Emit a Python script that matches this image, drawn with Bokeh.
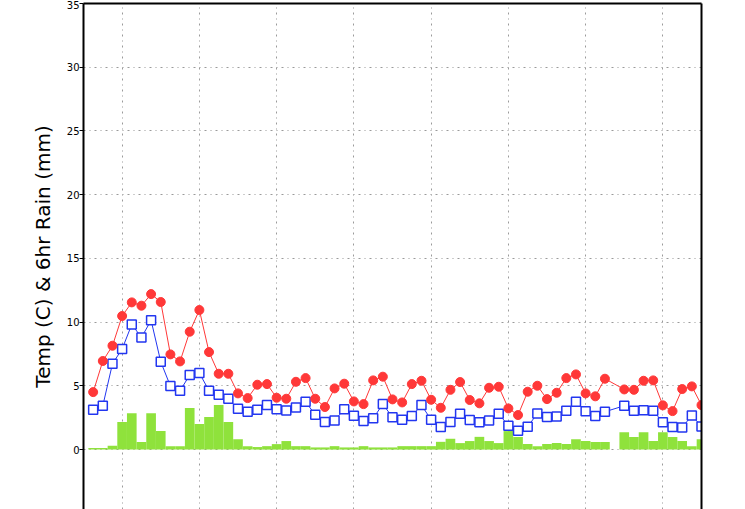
import math
from bokeh.plotting import figure
from bokeh.models import LinearAxis, FixedTicker, Range1d
from bokeh.embed import file_html
from bokeh.resources import INLINE

# ---- data (6-hourly steps) ----
step = list(range(64))
temp_max = [4.51, 6.95, 8.15, 10.48, 11.55, 11.29, 12.2, 11.58, 7.47, 6.92, 9.25, 10.95, 7.65, 5.95, 5.95, 4.41,
            4.04, 5.09, 5.14, 4.07, 3.99,
            5.32, 5.61, 3.99, 3.34, 4.8, 5.17, 3.78, 3.57, 5.43, 5.72, 3.94, 3.7, 5.14, 5.4, 3.91, 3.28, 4.69,
            5.3, 3.89, 3.63, 4.85, 4.93,
            3.23, 2.71, 4.54, 5.01, 3.96, 4.46, 5.61, 5.9, 4.41, 4.18, 5.56, None, 4.72, 4.69, 5.4, 5.43, 3.47,
            3.02, 4.75, 4.96, 3.49]
temp_dew = [3.13, 3.44, 6.74, 7.89, 9.82, 8.8, 10.14, 6.89, 4.98, 4.62, 5.85, 6.0, 4.62, 4.3, 3.99, 3.2,
            2.97, 3.13, 3.49, 3.16, 3.06,
            3.31, 3.75, 2.73, 2.16, 2.29, 3.16, 2.65, 2.24, 2.45, 3.57, 2.53, 2.34, 2.63, 3.49, 2.34, 1.77, 2.16,
            2.81, 2.32, 2.14, 2.29, 2.81,
            1.87, 1.48, 1.79, 2.84, 2.55, 2.6, 3.05, 3.75, 3.0, 2.63, 2.97, None, 3.44, 3.05, 3.08, 3.05, 2.14,
            1.77, 1.74, 2.68, 1.82]
rain_6h = [0.12, 0.12, 0.3, 2.16, 2.86, 0.59, 2.86, 1.45, 0.27, 0.27, 3.26, 2.0, 2.55, 3.49, 2.16, 0.82,
           0.27, 0.2, 0.27, 0.43, 0.67,
           0.27, 0.27, 0.17, 0.17, 0.27, 0.17, 0.17, 0.27, 0.17, 0.17, 0.17, 0.27, 0.27, 0.27, 0.27, 0.61, 0.85,
           0.51, 0.67, 1.0, 0.67, 0.51,
           1.45, 0.98, 0.43, 0.27, 0.43, 0.51, 0.43, 0.82, 0.67, 0.59, 0.59, None, 1.37, 0.98, 1.37, 0.67, 1.37,
           0.98, 0.67, 0.27, 0.82]
y_ticks = [0, 5, 10, 15, 20, 25, 30, 35]
x_grid_steps = [3, 11, 19, 27, 35, 43, 51, 59]

RED = "#ff3838"
BLUE = "#2236f0"
GREEN = "#8fe23c"
FONT = "DejaVu Sans"


def valid(xs, ys):
    pairs = [(x, y) for x, y in zip(xs, ys) if y is not None]
    return [p[0] for p in pairs], [p[1] for p in pairs]


p = figure(width=740, height=509, output_backend="svg", toolbar_location=None,
           x_range=Range1d(-1, 63), y_range=Range1d(-4.7, 35),
           min_border_left=83, min_border_right=39, min_border_top=3, min_border_bottom=0)
p.outline_line_color = None
p.background_fill_color = "white"
p.border_fill_color = "white"

# axes
p.xaxis.visible = False
p.yaxis.ticker = FixedTicker(ticks=y_ticks)
p.yaxis.axis_line_width = 2
p.yaxis.axis_line_color = "black"
p.yaxis.major_tick_out = 4
p.yaxis.major_tick_in = 0
p.yaxis.minor_tick_line_color = None
p.yaxis.major_label_text_font = FONT
p.yaxis.major_label_text_font_size = "10px"
p.yaxis.major_label_text_color = "black"
p.yaxis.major_label_standoff = 0
p.yaxis.axis_label = "Temp (C) & 6hr Rain (mm)"
p.yaxis.axis_label_text_font = FONT
p.yaxis.axis_label_text_font_size = "20px"
p.yaxis.axis_label_text_font_style = "normal"
p.yaxis.axis_label_text_color = "black"
p.yaxis.axis_label_standoff = 9

for loc in ("right", "above"):
    ax = LinearAxis(ticker=FixedTicker(ticks=[]), axis_line_width=2, axis_line_color="black",
                    major_tick_out=0, major_tick_in=0, minor_tick_out=0, minor_tick_in=0,
                    major_label_standoff=0, major_label_text_font_size="0px")
    p.add_layout(ax, loc)

# grids
p.xgrid.ticker = FixedTicker(ticks=x_grid_steps)
p.ygrid.ticker = FixedTicker(ticks=y_ticks)
for g in (p.xgrid, p.ygrid):
    g.grid_line_color = "#9a9a9a"
    g.grid_line_dash = "2 4 1 4"
    g.grid_line_width = 1
    g.level = "underlay"

# rain bars
bx, by = valid(step, rain_6h)
p.vbar(x=bx, top=by, bottom=0, width=1.0, fill_color=GREEN, line_color=None)

# second temperature series (blue squares)
dx, dy = valid(step, temp_dew)
p.line(dx, dy, line_color=BLUE, line_width=1)
p.scatter(dx, dy, marker="square", size=9, line_color=BLUE, line_width=1.5, fill_color="white")

# temperature (red circles)
tx, ty = valid(step, temp_max)
p.line(tx, ty, line_color=RED, line_width=1)
p.scatter(tx, ty, marker="circle", size=9, line_color=RED, fill_color=RED)

open("out.html", "w").write(file_html(p, INLINE))
